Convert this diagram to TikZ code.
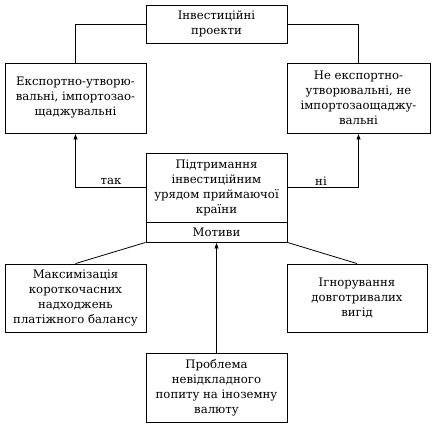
\documentclass[tikz,border=0pt]{standalone}
\usepackage{fontspec}
\setmainfont{DejaVu Serif}
\usetikzlibrary{arrows.meta}
\begin{document}
\begin{tikzpicture}[x=1pt,y=-1pt,
  box/.style={draw, line width=0.9pt, rectangle, align=center, inner sep=1pt,
    font=\fontsize{11.7}{15}\selectfont},
  conn/.style={line width=0.8pt},
  arr/.style={line width=0.8pt, -{Latex[length=6pt,width=4.5pt]}},
  lbl/.style={font=\fontsize{11.7}{14}\selectfont, inner sep=1pt}]
\useasboundingbox (0,0) rectangle (434,426);
\node[box, minimum width=141pt, minimum height=38pt] (top) at (216.5,24) {Інвестиційні\\проекти};
\node[box, minimum width=141pt, minimum height=70pt] (left) at (75.5,98) {Експортно-утворю-\\вальні, імпортозао-\\щаджувальні};
\node[box, minimum width=143pt, minimum height=70pt] (right) at (358.5,98) {Не експортно-\\утворювальні, не\\імпортозаощаджу-\\вальні};
\node[box, minimum width=141pt, minimum height=69pt] (center) at (216.5,187.5) {Підтримання\\інвестиційним\\урядом приймаючої\\країни};
\node[box, minimum width=141pt, minimum height=20pt] (motive) at (216.5,232) {Мотиви};
\node[box, minimum width=141pt, minimum height=68pt] (bl) at (75.5,298) {Максимізація\\короткочасних\\надходжень\\платіжного балансу};
\node[box, minimum width=140pt, minimum height=68pt] (br) at (357,298) {Ігнорування\\довготривалих\\вигід};
\node[box, minimum width=141pt, minimum height=69pt] (bottom) at (216.5,387.5) {Проблема\\невідкладного\\попиту на іноземну\\валюту};
\draw[conn] (top.west) -| (left.north);
\draw[conn] (top.east) -| (right.north);
\draw[arr] (center.west) -| (left.south);
\draw[arr] (center.east) -| (right.south);
\node[lbl] (tak) at (111,181) {так};
\node[lbl] (ni) at (321,181) {ні};
\draw[conn] (motive.south west) -- (bl.north);
\draw[conn] (motive.south east) -- (br.north);
\draw[arr] (bottom.north) -- (motive.south);
\end{tikzpicture}
\end{document}
